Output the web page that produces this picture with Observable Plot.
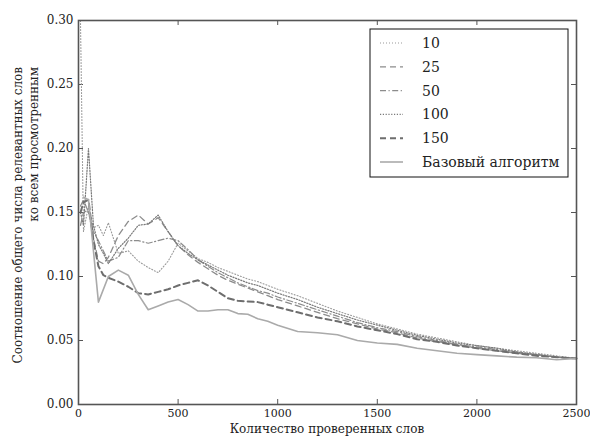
<!DOCTYPE html>
<html>
<head>
<meta charset="utf-8">
<script src="https://cdn.jsdelivr.net/npm/d3@7"></script>
<script src="https://cdn.jsdelivr.net/npm/@observablehq/plot@0.6"></script>
<style>
  html, body { margin: 0; padding: 0; background: #fff; }
</style>
</head>
<body>
<div id="chart"></div>
<script>
// Number of checked words (x)
const wordsChecked = [10, 25, 50, 75, 100, 125, 150, 200, 250, 300, 350, 400, 450, 500, 550, 600, 650, 700, 750, 800, 850, 900, 950, 1000, 1100, 1200, 1300, 1400, 1500, 1600, 1700, 1800, 1900, 2000, 2100, 2200, 2300, 2400, 2500];

const s10 = [0.300, 0.135, 0.155, 0.138, 0.140, 0.132, 0.142, 0.118, 0.120, 0.112, 0.107, 0.103, 0.112, 0.126, 0.120, 0.114, 0.111, 0.107, 0.104, 0.101, 0.098, 0.096, 0.093, 0.090, 0.085, 0.079, 0.073, 0.068, 0.063, 0.059, 0.055, 0.052, 0.049, 0.046, 0.044, 0.042, 0.040, 0.038, 0.036];
const s25 = [0.140, 0.150, 0.152, 0.130, 0.112, 0.110, 0.115, 0.132, 0.143, 0.148, 0.141, 0.146, 0.135, 0.124, 0.117, 0.111, 0.106, 0.101, 0.097, 0.094, 0.091, 0.088, 0.085, 0.082, 0.077, 0.072, 0.067, 0.063, 0.059, 0.056, 0.052, 0.049, 0.047, 0.044, 0.042, 0.040, 0.039, 0.037, 0.036];
const s50 = [0.155, 0.160, 0.150, 0.135, 0.128, 0.120, 0.112, 0.115, 0.128, 0.128, 0.126, 0.128, 0.130, 0.128, 0.121, 0.113, 0.108, 0.103, 0.099, 0.095, 0.092, 0.089, 0.087, 0.084, 0.079, 0.074, 0.069, 0.064, 0.060, 0.057, 0.053, 0.050, 0.047, 0.045, 0.043, 0.041, 0.039, 0.037, 0.036];
const s100 = [0.150, 0.140, 0.200, 0.140, 0.125, 0.118, 0.110, 0.122, 0.130, 0.140, 0.141, 0.148, 0.135, 0.124, 0.118, 0.113, 0.109, 0.105, 0.101, 0.098, 0.095, 0.093, 0.090, 0.087, 0.082, 0.076, 0.071, 0.066, 0.062, 0.058, 0.054, 0.051, 0.048, 0.046, 0.044, 0.041, 0.039, 0.037, 0.036];
const s150 = [0.150, 0.158, 0.160, 0.128, 0.108, 0.101, 0.099, 0.096, 0.092, 0.087, 0.086, 0.088, 0.090, 0.093, 0.095, 0.097, 0.093, 0.088, 0.083, 0.081, 0.0805, 0.080, 0.078, 0.076, 0.072, 0.068, 0.065, 0.061, 0.058, 0.055, 0.051, 0.049, 0.046, 0.044, 0.042, 0.040, 0.038, 0.037, 0.036];
const baseline = [null, 0.162, 0.160, null, 0.080, null, 0.100, 0.105, 0.101, 0.086, 0.074, 0.077, 0.080, 0.082, 0.078, 0.073, 0.073, 0.074, 0.074, 0.071, 0.0705, 0.067, 0.065, 0.062, 0.057, 0.056, 0.0545, 0.050, 0.048, 0.047, 0.044, 0.042, 0.040, 0.039, 0.038, 0.037, 0.0365, 0.035, 0.036];

const seriesNames = ["10", "25", "50", "100", "150", "Базовый алгоритм"];
const seriesValues = [s10, s25, s50, s100, s150, baseline];

const xTicks = [0, 500, 1000, 1500, 2000, 2500];
const yTicks = [0.00, 0.05, 0.10, 0.15, 0.20, 0.25, 0.30];

const xLabel = "Количество проверенных слов";
const yLabelLines = ["Соотношение общего числа релевантных слов", "ко всем просмотренным"];

// styles per series
const styles = [
  {stroke: "#9a9a9a", strokeWidth: 1.1, dash: "1,2"},
  {stroke: "#8c8c8c", strokeWidth: 1.3, dash: "6,4"},
  {stroke: "#8c8c8c", strokeWidth: 1.2, dash: "6,2.5,1.2,2.5"},
  {stroke: "#7a7a7a", strokeWidth: 1.2, dash: "1.2,1.6"},
  {stroke: "#6e6e6e", strokeWidth: 2.0, dash: "6,4"},
  {stroke: "#aaaaaa", strokeWidth: 1.6, dash: null}
];

function rowsFor(i) {
  return wordsChecked.map((x, j) => ({x, y: seriesValues[i][j]})).filter(d => d.y != null);
}

const W = 590, H = 436, mL = 78, mR = 14, mT = 20, mB = 32;
const plotW = W - mL - mR, plotH = H - mT - mB;
const tickLen = 5;

const lineMarks = seriesValues.map((_, i) => Plot.line(rowsFor(i), {
  x: "x", y: "y",
  stroke: styles[i].stroke,
  strokeWidth: styles[i].strokeWidth,
  strokeDasharray: styles[i].dash || undefined,
  curve: "linear"
}));

const chart = Plot.plot({
  width: W, height: H,
  marginLeft: mL, marginRight: mR, marginTop: mT, marginBottom: mB,
  style: {fontFamily: "DejaVu Serif", fontSize: "12px", color: "#222", background: "#fff"},
  x: {domain: [0, 2500]},
  y: {domain: [0, 0.30]},
  marks: [
    Plot.axisX({ticks: xTicks, tickSize: 0, tickPadding: 5, tickFormat: d3.format("d"), label: null, fontSize: 11}),
    Plot.axisY({ticks: yTicks, tickSize: 0, tickPadding: 5, tickFormat: d3.format(".2f"), label: null, fontSize: 12}),
    Plot.ruleX(xTicks, {x: d => d, insetTop: plotH - tickLen, stroke: "#555"}),
    Plot.ruleX(xTicks, {x: d => d, insetBottom: plotH - tickLen, stroke: "#555"}),
    Plot.ruleY(yTicks, {y: d => d, insetRight: plotW - tickLen, stroke: "#555"}),
    Plot.ruleY(yTicks, {y: d => d, insetLeft: plotW - tickLen, stroke: "#555"}),
    ...lineMarks,
    Plot.frame({stroke: "#555", strokeWidth: 1.6})
  ]
});

const svg = d3.select(chart);

// x axis label
svg.append("text")
  .attr("x", mL + plotW / 2).attr("y", H - 3)
  .attr("text-anchor", "middle")
  .attr("font-family", "DejaVu Serif").attr("font-size", 12).attr("fill", "#222")
  .text(xLabel);

// y axis label, two lines, rotated
const yl = svg.append("text")
  .attr("transform", `translate(0,${mT}) rotate(-90)`)
  .attr("font-family", "DejaVu Serif").attr("font-size", 12).attr("fill", "#222")
  .attr("text-anchor", "end");
yLabelLines.forEach((t, i) => {
  yl.append("tspan").attr("x", -47).attr("y", 22 + i * 16).text(t);
});

// legend
const lg = svg.append("g").attr("transform", "translate(370,29)");
lg.append("rect").attr("width", 198).attr("height", 148)
  .attr("fill", "#fff").attr("stroke", "#111").attr("stroke-width", 1);
seriesNames.forEach((name, i) => {
  const yy = 14 + i * 23.8;
  const ln = lg.append("line").attr("x1", 10).attr("x2", 33).attr("y1", yy).attr("y2", yy)
    .attr("stroke", styles[i].stroke).attr("stroke-width", styles[i].strokeWidth);
  if (styles[i].dash) ln.attr("stroke-dasharray", styles[i].dash);
  lg.append("text").attr("x", 52).attr("y", yy).attr("dy", "0.35em")
    .attr("text-anchor", "start")
    .attr("font-family", "DejaVu Serif").attr("font-size", 14).attr("fill", "#222")
    .text(name);
});

document.getElementById("chart").appendChild(chart);
</script>
</body>
</html>
